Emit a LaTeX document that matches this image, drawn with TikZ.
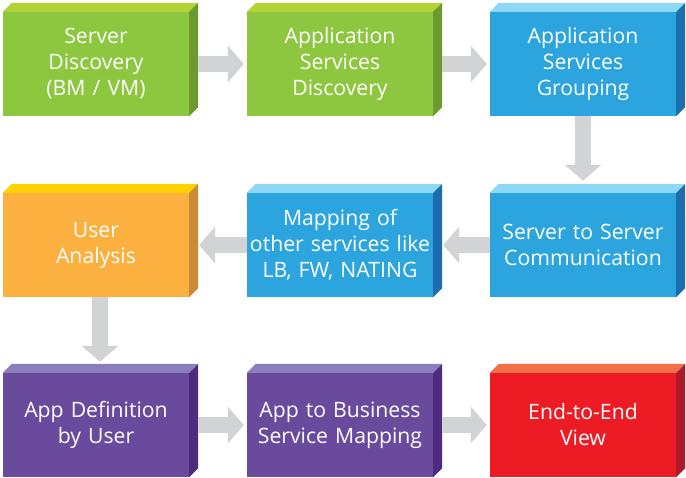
\documentclass[tikz,border=0pt]{standalone}
\usepackage{fontspec}
\setmainfont{Open Sans}
\usetikzlibrary{arrows.meta, positioning}
\definecolor{grnfront}{HTML}{8DC63F}
\definecolor{grntop}{HTML}{B2D235}
\definecolor{grnside}{HTML}{6C9A2E}
\definecolor{bluefront}{HTML}{2CA5DE}
\definecolor{bluetop}{HTML}{8DD7F7}
\definecolor{blueside}{HTML}{1C6DAF}
\definecolor{orgfront}{HTML}{FBB040}
\definecolor{orgtop}{HTML}{FFD204}
\definecolor{orgside}{HTML}{CB8A36}
\definecolor{purfront}{HTML}{6A4A9D}
\definecolor{purtop}{HTML}{8A7FBC}
\definecolor{purside}{HTML}{4F2B7E}
\definecolor{redfront}{HTML}{ED1C24}
\definecolor{redtop}{HTML}{F36F45}
\definecolor{redside}{HTML}{AD1A2B}
\definecolor{arrowgray}{HTML}{D1D3D4}

\tikzset{
  block/.style={fill=#1front, minimum width=186pt, minimum height=104pt,
    inner sep=0pt, text=white, align=center, text width=184pt,
    font=\fontsize{21.2}{26}\selectfont},
  flow/.style={arrowgray, line width=16pt,
    -{Triangle[length=16pt, width=36pt]}}
}

\begin{document}
\begin{tikzpicture}[x=1pt, y=1pt]
  \useasboundingbox (0,0) rectangle (686,-478);

  % Row 1 (left to right)
  \node[block=grn] (srvdisc) at (96,-64) {Server\\Discovery\\(BM / VM)};
  \node[block=grn] (appdisc) at (340,-64) {Application\\Services\\Discovery};
  \node[block=blue] (appgrp) at (583,-64) {Application\\Services\\Grouping};

  % Row 2 (right to left)
  \node[block=blue] (s2s) at (583,-245) {Server to Server\\Communication};
  \node[block=blue] (mapping) at (340,-245) {Mapping of\\other services like\\LB, FW, NATING};
  \node[block=org] (user) at (96,-245) {User\\Analysis};

  % Row 3 (left to right)
  \node[block=pur] (appdef) at (96,-425) {App Definition\\by User};
  \node[block=pur] (appbiz) at (340,-425) {App to Business\\Service Mapping};
  \node[block=red] (e2e) at (583,-425) {End-to-End\\View};

  % Top and side faces give each block its depth
  \foreach \n/\c in {srvdisc/grn, appdisc/grn, appgrp/blue, s2s/blue,
    mapping/blue, user/org, appdef/pur, appbiz/pur, e2e/red} {
    \fill[\c top] (\n.north west) -- ++(9,9) -- ([shift={(9,9)}]\n.north east) -- (\n.north east) -- cycle;
    \fill[\c side] (\n.north east) -- ++(9,9) -- ([shift={(9,9)}]\n.south east) -- (\n.south east) -- cycle;
  }

  % Flow arrows
  \draw[flow] ([xshift=9pt]srvdisc.east) -- ([xshift=-3pt]appdisc.west);
  \draw[flow] ([xshift=9pt]appdisc.east) -- ([xshift=-3pt]appgrp.west);
  \draw[flow] (appgrp.south) -- ([yshift=12pt]s2s.north);
  \draw[flow] (s2s.west) -- ([xshift=10pt]mapping.east);
  \draw[flow] (mapping.west) -- ([xshift=10pt]user.east);
  \draw[flow] ([xshift=4pt]user.south) -- ([xshift=4pt, yshift=11pt]appdef.north);
  \draw[flow] ([xshift=9pt]appdef.east) -- ([xshift=-3pt]appbiz.west);
  \draw[flow] ([xshift=9pt]appbiz.east) -- ([xshift=-3pt]e2e.west);
\end{tikzpicture}
\end{document}
